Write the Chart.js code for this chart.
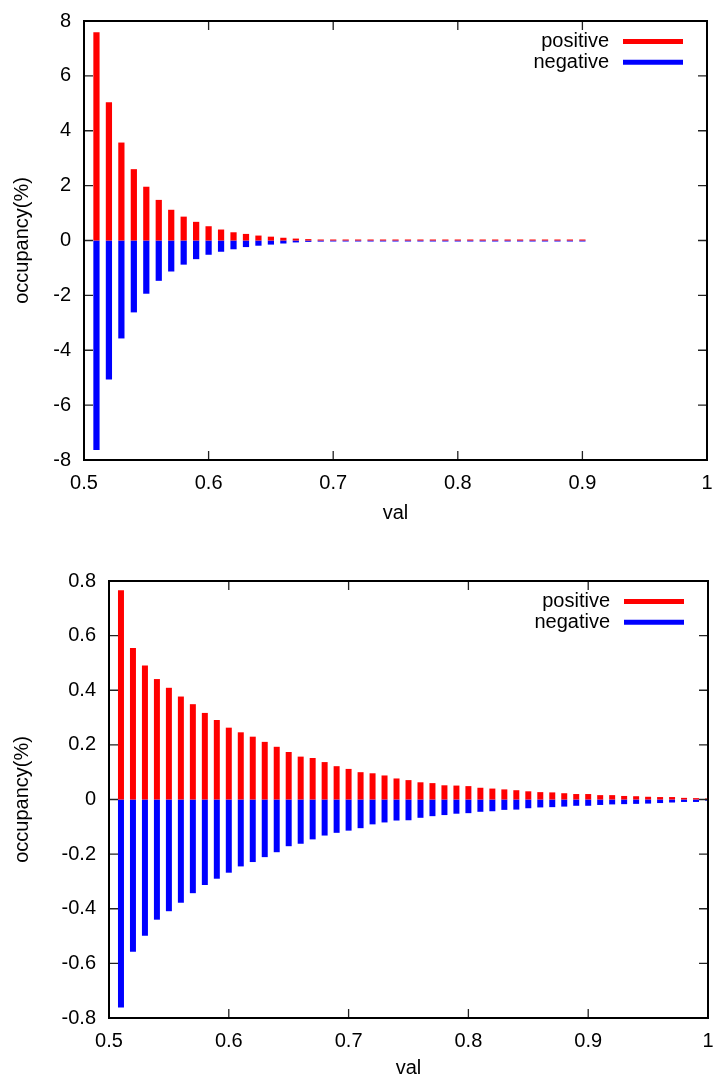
<!DOCTYPE html>
<html>
<head>
<meta charset="utf-8">
<script src="https://cdn.jsdelivr.net/npm/chart.js@4.4.1/dist/chart.umd.min.js"></script>
<style>
  html, body { margin: 0; padding: 0; background: #fff; }
  canvas { display: block; }
</style>
</head>
<body>
<canvas id="topChart" width="716" height="540"></canvas>
<canvas id="bottomChart" width="716" height="541"></canvas>
<script>
// bin centres (val)
var topVal = [0.51, 0.52, 0.53, 0.54, 0.55, 0.56, 0.57, 0.58, 0.59, 0.60,
  0.61, 0.62, 0.63, 0.64, 0.65, 0.66, 0.67, 0.68, 0.69, 0.70,
  0.71, 0.72, 0.73, 0.74, 0.75, 0.76, 0.77, 0.78, 0.79, 0.80,
  0.81, 0.82, 0.83, 0.84, 0.85, 0.86, 0.87, 0.88, 0.89, 0.90];
var bottomVal = [0.51, 0.52, 0.53, 0.54, 0.55, 0.56, 0.57, 0.58, 0.59, 0.60,
  0.61, 0.62, 0.63, 0.64, 0.65, 0.66, 0.67, 0.68, 0.69, 0.70,
  0.71, 0.72, 0.73, 0.74, 0.75, 0.76, 0.77, 0.78, 0.79, 0.80,
  0.81, 0.82, 0.83, 0.84, 0.85, 0.86, 0.87, 0.88, 0.89, 0.90,
  0.91, 0.92, 0.93, 0.94, 0.95, 0.96, 0.97, 0.98, 0.99, 1.00];

// occupancy(%) - top plot
var topPositive = [7.59, 5.04, 3.57, 2.60, 1.96, 1.48, 1.12, 0.87, 0.68, 0.52,
  0.40, 0.30, 0.24, 0.18, 0.14, 0.10, 0.07, 0.05, 0.035, 0.025,
  0.018, 0.013, 0.010, 0.008, 0.006, 0.005, 0.004, 0.0035, 0.003, 0.0025,
  0.002, 0.0018, 0.0015, 0.0012, 0.001, 0.0008, 0.0007, 0.0006, 0.0005, 0.0004];
var topNegative = [-7.64, -5.07, -3.57, -2.62, -1.94, -1.47, -1.13, -0.88, -0.68, -0.52,
  -0.41, -0.32, -0.24, -0.19, -0.15, -0.11, -0.07, -0.05, -0.04, -0.028,
  -0.02, -0.014, -0.011, -0.008, -0.006, -0.005, -0.004, -0.0035, -0.003, -0.0025,
  -0.002, -0.0018, -0.0015, -0.0012, -0.001, -0.0008, -0.0007, -0.0006, -0.0005, -0.0004];

// occupancy(%) - bottom plot
var bottomPositive = [0.766, 0.555, 0.491, 0.441, 0.409, 0.377, 0.349, 0.317, 0.291, 0.263,
  0.246, 0.230, 0.211, 0.193, 0.174, 0.157, 0.152, 0.137, 0.122, 0.112,
  0.100, 0.096, 0.088, 0.077, 0.071, 0.063, 0.060, 0.052, 0.051, 0.049,
  0.043, 0.040, 0.037, 0.034, 0.030, 0.027, 0.026, 0.023, 0.020, 0.020,
  0.016, 0.016, 0.013, 0.012, 0.010, 0.009, 0.009, 0.006, 0.005, 0.003];
var bottomNegative = [-0.762, -0.557, -0.499, -0.440, -0.409, -0.378, -0.343, -0.313, -0.290, -0.268,
  -0.245, -0.229, -0.211, -0.193, -0.171, -0.162, -0.146, -0.132, -0.122, -0.114,
  -0.105, -0.091, -0.084, -0.077, -0.076, -0.067, -0.061, -0.057, -0.052, -0.050,
  -0.045, -0.043, -0.038, -0.037, -0.032, -0.029, -0.028, -0.026, -0.023, -0.023,
  -0.020, -0.018, -0.017, -0.016, -0.015, -0.013, -0.011, -0.009, -0.009, -0.004];

// tick marks and labels
var xTicks = [0.5, 0.6, 0.7, 0.8, 0.9, 1];
var xTickLabels = ["0.5", "0.6", "0.7", "0.8", "0.9", "1"];
var topYTicks = [-8, -6, -4, -2, 0, 2, 4, 6, 8];
var topYTickLabels = ["-8", "-6", "-4", "-2", "0", "2", "4", "6", "8"];
var bottomYTicks = [-0.8, -0.6, -0.4, -0.2, 0, 0.2, 0.4, 0.6, 0.8];
var bottomYTickLabels = ["-0.8", "-0.6", "-0.4", "-0.2", "0", "0.2", "0.4", "0.6", "0.8"];

Chart.defaults.font.family = "'Liberation Sans', Arial, sans-serif";
Chart.defaults.font.size = 20;
Chart.defaults.color = "#000";

// gnuplot-like frame, inward ticks and legend inside the plot
var gnuFrame = {
  id: "gnuFrame",
  afterDatasetsDraw: function (chart) {
    var ctx = chart.ctx;
    var a = chart.chartArea;
    var xs = chart.scales.x;
    var ys = chart.scales.y;
    ctx.save();
    ctx.strokeStyle = "#222";
    ctx.lineWidth = 1.3;
    ctx.beginPath();
    xs.ticks.forEach(function (t) {
      var px = xs.getPixelForValue(t.value);
      ctx.moveTo(px, a.bottom);
      ctx.lineTo(px, a.bottom - 9);
      ctx.moveTo(px, a.top);
      ctx.lineTo(px, a.top + 9);
    });
    ys.ticks.forEach(function (t) {
      var py = ys.getPixelForValue(t.value);
      ctx.moveTo(a.left, py);
      ctx.lineTo(a.left + 9, py);
      ctx.moveTo(a.right, py);
      ctx.lineTo(a.right - 9, py);
    });
    ctx.stroke();
    ctx.strokeStyle = "#000";
    ctx.lineWidth = 2;
    ctx.strokeRect(a.left, a.top, a.right - a.left, a.bottom - a.top);

    // legend
    ctx.font = "20px 'Liberation Sans', Arial, sans-serif";
    ctx.textAlign = "right";
    ctx.textBaseline = "middle";
    chart.data.datasets.forEach(function (ds, i) {
      var y = a.top + 20.5 + i * 20.7;
      ctx.fillStyle = "#000";
      ctx.fillText(ds.label, a.right - 98, y);
      ctx.strokeStyle = ds.backgroundColor;
      ctx.lineWidth = 5;
      ctx.beginPath();
      ctx.moveTo(a.right - 84, y);
      ctx.lineTo(a.right - 24, y);
      ctx.stroke();
    });
    ctx.restore();
  }
};

function makeChart(canvasId, vals, pos, neg, yTicks, yLabels, opts) {
  var ctx = document.getElementById(canvasId).getContext("2d");
  return new Chart(ctx, {
    type: "bar",
    data: {
      datasets: [
        {
          label: "positive",
          data: vals.map(function (v, i) { return { x: v, y: pos[i] }; }),
          backgroundColor: "#ff0000",
          grouped: false,
          barPercentage: 0.5,
          categoryPercentage: 1,
          minBarLength: 1,
        },
        {
          label: "negative",
          data: vals.map(function (v, i) { return { x: v, y: neg[i] }; }),
          backgroundColor: "#0000ff",
          grouped: false,
          barPercentage: 0.5,
          categoryPercentage: 1,
          minBarLength: 1,
        },
      ],
    },
    options: {
      responsive: false,
      animation: false,
      devicePixelRatio: 1,
      layout: {
        padding: { left: 0, right: opts.right, top: opts.top, bottom: 0 },
      },
      plugins: {
        legend: { display: false },
        tooltip: { enabled: false },
      },
      scales: {
        x: {
          type: "linear",
          min: 0.5,
          max: 1,
          offset: false,
          grid: { display: false, drawTicks: false },
          border: { display: false },
          afterBuildTicks: function (scale) {
            scale.ticks = xTicks.map(function (v) { return { value: v }; });
          },
          afterFit: function (scale) {
            scale.height = opts.xHeight;
            scale.paddingLeft = 0;
            scale.paddingRight = 0;
          },
          ticks: {
            padding: 11,
            maxRotation: 0,
            autoSkip: false,
            callback: function (value, index) {
              return xTickLabels[index];
            },
          },
          title: {
            display: true,
            text: "val",
            padding: { top: 0, bottom: opts.valPad },
          },
        },
        y: {
          min: yTicks[0],
          max: yTicks[yTicks.length - 1],
          grid: { display: false, drawTicks: false },
          border: { display: false },
          afterBuildTicks: function (scale) {
            scale.ticks = yTicks.map(function (v) { return { value: v }; });
          },
          afterFit: function (scale) {
            scale.width = opts.yWidth;
            scale.paddingTop = 0;
            scale.paddingBottom = 0;
          },
          ticks: {
            padding: 13,
            autoSkip: false,
            callback: function (value, index) {
              return yLabels[index];
            },
          },
          title: {
            display: true,
            text: "occupancy(%)",
            padding: { top: 10, bottom: 0 },
          },
        },
      },
    },
    plugins: [gnuFrame],
  });
}

makeChart("topChart", topVal, topPositive, topNegative, topYTicks, topYTickLabels,
  { right: 9, top: 21, xHeight: 80, yWidth: 84, valPad: 15 });
makeChart("bottomChart", bottomVal, bottomPositive, bottomNegative, bottomYTicks, bottomYTickLabels,
  { right: 8, top: 41, xHeight: 63, yWidth: 109, valPad: 1 });
</script>
</body>
</html>
